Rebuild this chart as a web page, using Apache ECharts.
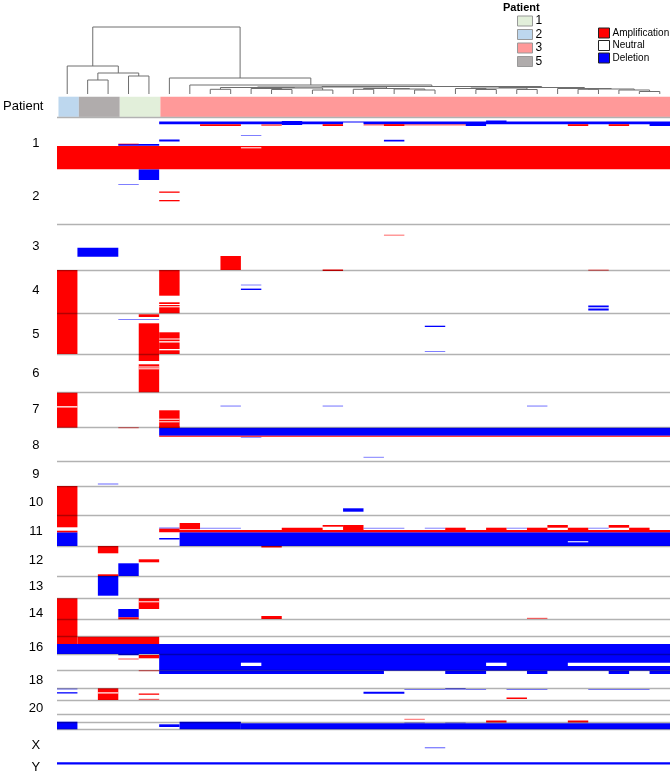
<!DOCTYPE html>
<html>
<head>
<meta charset="utf-8">
<script src="https://cdn.jsdelivr.net/npm/echarts@6/dist/echarts.min.js"></script>
<style>
  html, body { margin: 0; padding: 0; background: #fff; }
  #main { width: 672px; height: 774px; }
</style>
</head>
<body>
<div id="main"></div>
<script>
// samples (columns) and the patient each one belongs to
var patientOfColumn = ['2', '5', '5', '1', '1',
  '3', '3', '3', '3', '3', '3', '3', '3', '3', '3', '3', '3', '3', '3', '3',
  '3', '3', '3', '3', '3', '3', '3', '3', '3', '3'];
var patients = ['1', '2', '3', '5'];
var patientColors = {'1': '#e2efda', '2': '#bdd7ee', '3': '#ff9999', '5': '#b0acac'};

// dendrogram merges, hclust style: negative = leaf (column -n-1), positive = earlier merge (1-based)
var dendroMerges = [
  [-2, -3, 14], [-4, -5, 18], [1, 2, 21], [-1, 3, 28],
  [-8, -9, 4.7], [-11, -12, 4.5], [-13, -14, 4], [-10, 6, 5.5], [8, 7, 6], [5, 9, 6.5],
  [-15, -16, 4.7], [-18, -19, 4], [-17, 12, 5], [11, 13, 5.5], [10, 14, 7],
  [-21, -22, 4.5], [-20, 16, 5.5], [-23, -24, 4.5], [17, 18, 6],
  [-26, -27, 4.7], [-29, -30, 2.5], [-28, 21, 4], [20, 22, 5], [-25, 23, 5.5], [19, 24, 6.5],
  [15, 25, 7.5], [-7, 26, 9], [-6, 27, 16], [4, 28, 67]
];

// genome position axis (top to bottom) and chromosome boundaries
var genomeStart = 110;
var genomeEnd = 774;
var chromBoundaries = [117.7, 224, 270, 313.3, 354, 392.7, 427.7, 461, 486, 515.7, 546, 576,
  598.3, 619.3, 636.7, 654.3, 670.7, 688, 700, 714, 722, 729.3];
var chromLabels = ['1', '2', '3', '4', '5', '6', '7', '8', '9', '10', '11', '12', '13', '14',
  '16', '18', '20', 'X', 'Y'];
var chromLabelPos = [143, 196, 246.7, 290, 334, 373.3, 409, 445, 474.3, 502.7, 531.7, 560,
  586.7, 613.3, 647.3, 680, 708.3, 745, 767.7];

// segments: [firstColumn, lastColumn, start, end, strength]
var deletionSegs = [
  [5, 29, 121.5, 124.2, 1], [11, 11, 121, 125, 1], [20, 20, 123, 126, 1], [21, 21, 120.5, 124, 1],
  [29, 29, 122, 126, 1], [5, 5, 139.5, 141.5, 1], [16, 16, 139.8, 141.5, 1], [9, 9, 135, 136, 0.5],
  [3, 4, 144, 145.8, 1],
  [4, 4, 169.3, 180, 1], [3, 3, 184, 185, 0.5],
  [1, 2, 247.7, 256.7, 1],
  [9, 9, 284.5, 285.5, 0.5], [9, 9, 288.6, 290, 1], [26, 26, 305.5, 307.3, 1], [26, 26, 308.5, 310.5, 1],
  [3, 4, 319, 320, 0.5], [18, 18, 325.7, 327, 1], [18, 18, 351, 352, 0.5],
  [8, 8, 405.5, 406.6, 0.5], [13, 13, 405.5, 406.6, 0.5], [23, 23, 405.5, 406.6, 0.5],
  [5, 29, 427.7, 435.7, 1], [9, 9, 436.8, 437.8, 0.5], [15, 15, 456.8, 457.8, 0.5],
  [2, 2, 483.5, 484.5, 0.6],
  [14, 14, 508.3, 511.7, 1],
  [0, 0, 532.3, 546, 1], [6, 29, 532.3, 546, 1], [5, 5, 527.5, 528.7, 0.6], [5, 5, 538, 539.5, 1],
  [7, 8, 527.7, 528.7, 0.5], [15, 16, 527.7, 528.7, 0.5], [18, 18, 527.7, 528.7, 0.5],
  [22, 22, 527.7, 528.7, 0.5], [26, 26, 527.7, 528.7, 0.5], [29, 29, 531.5, 532.5, 0.5],
  [3, 3, 563.3, 576, 1], [2, 2, 576, 595.7, 1],
  [3, 3, 609, 617.3, 1],
  [0, 29, 644, 654, 1], [5, 29, 654, 670.7, 1], [5, 15, 670.7, 674, 1], [19, 20, 670.7, 674, 1],
  [23, 23, 670.7, 674, 1], [27, 27, 670.7, 674, 1], [29, 29, 670.7, 674, 1], [3, 3, 654, 655.2, 1],
  [0, 0, 688.5, 689.5, 0.6], [0, 0, 692.2, 693.5, 1], [15, 16, 691.7, 693.7, 1],
  [17, 18, 689, 690, 0.5], [20, 20, 689, 690, 0.5], [22, 23, 689, 690, 0.5], [26, 28, 689, 690, 0.5],
  [19, 19, 688.3, 689.5, 0.8],
  [0, 0, 721.7, 729.3, 1], [5, 5, 724.3, 727, 1], [6, 8, 721.7, 729.3, 1], [9, 29, 723.3, 729.3, 1],
  [17, 17, 722.5, 723.5, 0.5], [19, 19, 722.5, 723.5, 0.5],
  [18, 18, 747.2, 748.3, 0.6],
  [0, 29, 762.3, 764.5, 1]
];
var amplificationSegs = [
  [7, 8, 124.2, 126, 1], [10, 10, 124.2, 126, 0.6], [13, 13, 124.2, 126, 1], [15, 19, 124.2, 125.5, 0.6],
  [16, 16, 124.2, 126, 1], [25, 25, 124.2, 126, 1], [27, 27, 124.2, 126, 1],
  [3, 3, 143.5, 144.3, 0.6], [0, 29, 146, 169.3, 1],
  [5, 5, 191.5, 192.8, 1], [5, 5, 200, 201.3, 1],
  [16, 16, 234.6, 235.8, 0.5], [8, 8, 256, 270, 1], [13, 13, 269.5, 271, 1], [26, 26, 269.5, 271, 0.5],
  [0, 0, 270, 354, 1], [5, 5, 270, 295.7, 1], [5, 5, 302.3, 304, 1], [5, 5, 305, 306.3, 1],
  [5, 5, 307.3, 313.3, 1],
  [4, 4, 314.3, 317, 1], [4, 4, 323.3, 361, 1], [5, 5, 332.3, 338.5, 1], [5, 5, 339.5, 341.2, 1],
  [5, 5, 342.5, 349, 1], [5, 5, 350.3, 354, 1],
  [4, 4, 364.3, 392.3, 1],
  [0, 0, 392.7, 427.7, 1], [5, 5, 410.3, 427.7, 1], [3, 3, 427, 428.3, 0.5],
  [5, 5, 426.3, 428, 1], [5, 29, 435.7, 436.5, 1],
  [0, 0, 486, 527.3, 1],
  [0, 0, 530.7, 532.3, 1], [5, 29, 530, 532.3, 1], [5, 5, 528.7, 530, 1], [6, 6, 523, 529.3, 1],
  [11, 12, 527.7, 530, 1], [13, 13, 525, 526.7, 1], [14, 14, 525, 530, 1],
  [19, 19, 527.7, 530, 1], [21, 21, 527.7, 530, 1], [23, 23, 527.7, 530, 1], [25, 25, 527.7, 530, 1],
  [28, 28, 527.7, 530, 1], [24, 24, 525, 527.7, 1], [27, 27, 525, 527.7, 1], [10, 10, 546, 547.5, 1],
  [2, 2, 546, 553.3, 1], [4, 4, 559.3, 562.3, 1], [2, 2, 574.3, 576, 1],
  [0, 0, 598.3, 644, 1], [4, 4, 598.3, 609, 1], [3, 3, 617.3, 619.3, 1], [10, 10, 616, 619, 1],
  [23, 23, 617.8, 619, 0.6],
  [1, 4, 636.7, 644, 1], [4, 4, 655, 658.3, 1], [3, 3, 658.5, 659.5, 0.7], [4, 4, 670.2, 671.2, 0.7],
  [2, 2, 688.3, 700, 1], [4, 4, 693.5, 694.8, 1], [4, 4, 698.8, 700, 0.6], [22, 22, 697.5, 699, 1],
  [17, 17, 718.8, 719.8, 0.6], [21, 21, 720.5, 722.5, 1], [25, 25, 720.5, 722.5, 1]
];
// neutral gaps inside larger segments
var neutralGaps = [
  [14, 14, 122.5, 125, 1], [9, 9, 147.3, 148.3, 1],
  [4, 4, 366.5, 367.3, 1], [4, 4, 368.3, 369, 1],
  [0, 0, 406.2, 407.5, 1], [5, 5, 418.7, 419.5, 1], [5, 5, 421.3, 422, 1],
  [25, 25, 541.2, 542.3, 1], [4, 4, 601.3, 602.2, 1],
  [9, 9, 662.7, 666, 1], [21, 21, 662.7, 666, 1], [25, 29, 662.7, 666, 1],
  [2, 2, 692.3, 693.5, 1]
];

var nCols = patientOfColumn.length;

// dendrogram: leaf x = column centre, each merge drawn as a bracket
var nodeX = [], nodeH = [];
var dendroData = dendroMerges.map(function (m, i) {
  function pos(k) {
    return k < 0 ? [-k - 1 + 0.5, 0] : [nodeX[k - 1], nodeH[k - 1]];
  }
  var a = pos(m[0]), b = pos(m[1]);
  nodeX[i] = (a[0] + b[0]) / 2;
  nodeH[i] = m[2];
  return [a[0], a[1], b[0], b[1], m[2]];
});

function segRenderer(fill) {
  return function (params, api) {
    var p0 = api.coord([api.value(0), api.value(2)]);
    var p1 = api.coord([api.value(1) + 1, api.value(3)]);
    return {
      type: 'rect',
      shape: {x: p0[0], y: p0[1], width: p1[0] - p0[0], height: Math.max(p1[1] - p0[1], 1)},
      style: {fill: fill, opacity: api.value(4)}
    };
  };
}

// contiguous runs of columns per patient, so the bar has no seams
var patientSeries = patients.map(function (p) {
  var runs = [];
  patientOfColumn.forEach(function (q, i) {
    if (q !== p) return;
    var last = runs[runs.length - 1];
    if (last && last[1] === i - 1) last[1] = i; else runs.push([i, i]);
  });
  return {
    name: p,
    type: 'custom',
    xAxisIndex: 1,
    yAxisIndex: 1,
    itemStyle: {color: patientColors[p]},
    data: runs,
    renderItem: function (params, api) {
      var p0 = api.coord([api.value(0), 0]);
      var p1 = api.coord([api.value(1) + 1, 0]);
      var h = api.size([0, 1])[1];
      return {
        type: 'rect',
        shape: {x: p0[0], y: p0[1] - h / 2, width: p1[0] - p0[0], height: h},
        style: {fill: patientColors[p]}
      };
    }
  };
});

var chart = echarts.init(document.getElementById('main'));
chart.setOption({
  animation: false,
  textStyle: {fontFamily: 'Liberation Sans, Arial, sans-serif'},
  title: {
    text: 'Patient', left: 503, top: 2, padding: 0,
    textStyle: {fontSize: 11, fontWeight: 'bold', color: '#000'}
  },
  legend: [{
    data: patients,
    orient: 'vertical', left: 517, top: 15, padding: 0,
    itemWidth: 15, itemHeight: 10, itemGap: 1.5,
    icon: 'rect',
    itemStyle: {borderColor: '#999', borderWidth: 1},
    textStyle: {fontSize: 12, lineHeight: 12, color: '#000', padding: [0, 0, 0, -2]}
  }, {
    data: ['Amplification', 'Neutral', 'Deletion'],
    orient: 'vertical', left: 598, top: 27.5, padding: 0,
    itemWidth: 11, itemHeight: 10, itemGap: 1.5,
    icon: 'rect',
    itemStyle: {borderColor: '#222', borderWidth: 1},
    textStyle: {fontSize: 10, color: '#000', padding: [0, 0, 0, -2]}
  }],
  grid: [
    {left: 57, width: 613, top: 27, height: 67},
    {left: 57, width: 613, top: 96.7, height: 20},
    {left: 57, width: 613, top: genomeStart, height: genomeEnd - genomeStart}
  ],
  xAxis: [
    {gridIndex: 0, type: 'value', min: 0, max: nCols, show: false},
    {gridIndex: 1, type: 'value', min: 0, max: nCols, show: false},
    {gridIndex: 2, type: 'value', min: 0, max: nCols, show: false}
  ],
  yAxis: [
    {gridIndex: 0, type: 'value', min: 0, max: 67, show: false},
    {
      gridIndex: 1, type: 'category', data: ['Patient'],
      axisLine: {show: false}, axisTick: {show: false}, splitLine: {show: false},
      axisLabel: {fontSize: 13, color: '#000', margin: 15}
    },
    {gridIndex: 2, type: 'value', min: genomeStart, max: genomeEnd, inverse: true, show: false}
  ],
  series: [
    {
      type: 'custom',
      xAxisIndex: 0, yAxisIndex: 0,
      data: dendroData,
      renderItem: function (params, api) {
        var a = api.coord([api.value(0), api.value(1)]);
        var a2 = api.coord([api.value(0), api.value(4)]);
        var b2 = api.coord([api.value(2), api.value(4)]);
        var b = api.coord([api.value(2), api.value(3)]);
        return {
          type: 'polyline',
          shape: {points: [a, a2, b2, b]},
          style: {stroke: '#6e6e6e', lineWidth: 1, fill: null}
        };
      }
    }
  ].concat(patientSeries).concat([
    {
      name: 'Deletion', type: 'custom', xAxisIndex: 2, yAxisIndex: 2,
      itemStyle: {color: '#0000ff'}, data: deletionSegs, renderItem: segRenderer('#0000ff')
    },
    {
      name: 'Amplification', type: 'custom', xAxisIndex: 2, yAxisIndex: 2,
      itemStyle: {color: '#ff0000'}, data: amplificationSegs, renderItem: segRenderer('#ff0000')
    },
    {
      name: 'Neutral', type: 'custom', xAxisIndex: 2, yAxisIndex: 2,
      itemStyle: {color: '#ffffff'}, data: neutralGaps, renderItem: segRenderer('#ffffff')
    },
    {
      // chromosome separators and labels
      type: 'custom', xAxisIndex: 2, yAxisIndex: 2, z: 5, clip: false,
      data: chromLabels.map(function (c, i) { return [-1.03, chromLabelPos[i]]; }),
      renderItem: function (params, api) {
        var p = api.coord([api.value(0), api.value(1)]);
        return {
          type: 'text',
          style: {
            text: chromLabels[params.dataIndex], x: p[0], y: p[1],
            align: 'center', verticalAlign: 'middle',
            font: '13px "Liberation Sans", Arial, sans-serif', fill: '#000'
          }
        };
      },
      markLine: {
        silent: true, symbol: 'none', animation: false,
        label: {show: false},
        lineStyle: {color: 'rgba(0,0,0,0.3)', width: 1.3, type: 'solid'},
        data: chromBoundaries.map(function (v) { return {yAxis: v}; })
      }
    }
  ])
});
</script>
</body>
</html>
